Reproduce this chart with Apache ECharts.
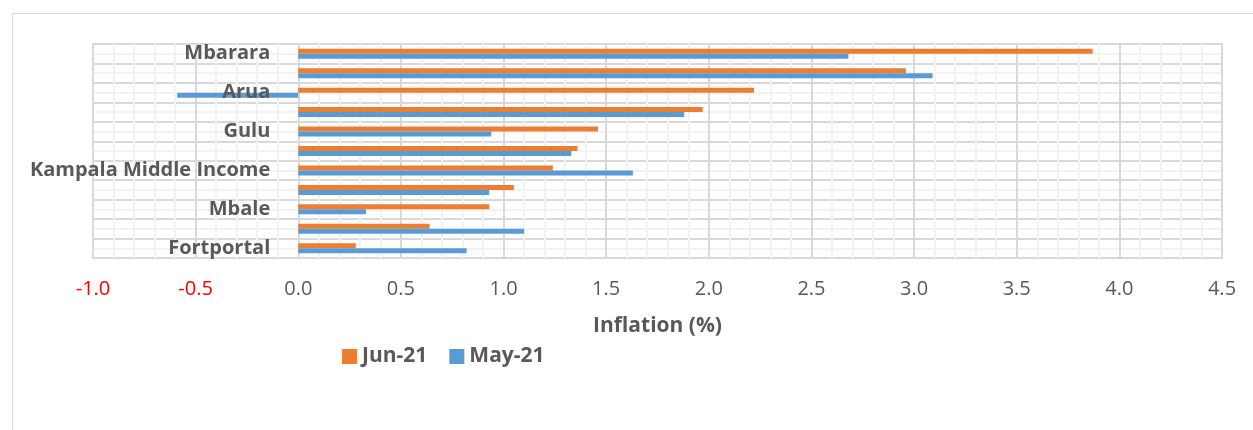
<!DOCTYPE html>
<html>
<head>
<meta charset="utf-8">
<title>Inflation by region</title>
<script src="https://cdn.jsdelivr.net/npm/echarts@6/dist/echarts.min.js"></script>
<style>
  html, body { margin: 0; padding: 0; background: #fff; }
  #chart { width: 1253px; height: 430px; }
</style>
</head>
<body>
<div id="chart"></div>
<script>
// categories, bottom to top (only every other one is labelled in the original)
const regions = [
  "Fortportal", "Masaka", "Mbale", "Jinja", "Kampala Middle Income",
  "Kampala Low Income", "Gulu", "National", "Arua", "Kampala High Income", "Mbarara"
];
// Jun-21 inflation (%)
const jun21 = [0.28, 0.64, 0.93, 1.05, 1.24, 1.36, 1.46, 1.97, 2.22, 2.96, 3.87];
// May-21 inflation (%)
const may21 = [0.82, 1.10, 0.33, 0.93, 1.63, 1.33, 0.94, 1.88, -0.59, 3.09, 2.68];

const xTicks = { min: -1.0, max: 4.5, step: 0.5 };

const textGray = "#595959";
const font = "'Open Sans', 'Noto Sans', sans-serif";

const gridLeft = 93;
const gridRight = 31;
const chartWidth = 1253;
// pixel distance from the grid's left edge to x = 0, so the category labels sit at zero
const zeroShift = (0 - xTicks.min) / (xTicks.max - xTicks.min) * (chartWidth - gridLeft - gridRight);

const chart = echarts.init(document.getElementById("chart"));

const option = {
  animation: false,
  backgroundColor: "#fff",
  textStyle: { fontFamily: font },
  graphic: [
    {
      type: "rect",
      shape: { x: 12.5, y: 13.5, width: 1260, height: 430 },
      style: { fill: "none", stroke: "#d9d9d9", lineWidth: 1 },
      silent: true,
      z: -10
    }
  ],
  grid: {
    left: gridLeft,
    right: gridRight,
    top: 44,
    bottom: 172,
    outerBoundsMode: "none",
    containLabel: false,
    show: true,
    borderColor: "#d9d9d9",
    borderWidth: 2
  },
  legend: {
    data: ["Jun-21", "May-21"],
    left: 337,
    top: 341,
    itemWidth: 15,
    itemHeight: 15,
    itemGap: 22,
    icon: "rect",
    textStyle: { color: textGray, fontSize: 21, fontWeight: "bold", fontFamily: font }
  },
  xAxis: {
    type: "value",
    min: xTicks.min,
    max: xTicks.max,
    interval: xTicks.step,
    name: "Inflation (%)",
    nameLocation: "middle",
    nameGap: 58,
    nameTextStyle: { color: textGray, fontSize: 21, fontWeight: "bold", fontFamily: font },
    axisLine: { show: false, onZero: false },
    axisTick: { show: false },
    axisLabel: {
      margin: 21,
      fontSize: 20,
      fontFamily: font,
      color: (v) => (Number(v) < 0 ? "#ff0000" : textGray),
      formatter: (v) => v.toFixed(1)
    },
    splitLine: { show: true, lineStyle: { color: "#d9d9d9", width: 2 } },
    minorTick: { show: false, splitNumber: 5 },
    minorSplitLine: { show: true, lineStyle: { color: "#f2f2f2", width: 2 } }
  },
  yAxis: [
    {
      type: "category",
      data: regions,
      position: "left",
      offset: -zeroShift,
      z: 10,
      axisLine: { show: false, onZero: false },
      axisTick: { show: false },
      splitLine: { show: false },
      axisLabel: {
        interval: 1,
        margin: 28,
        fontSize: 20,
        fontWeight: "bold",
        color: textGray,
        fontFamily: font
      }
    },
    {
      type: "value",
      min: 0,
      max: regions.length,
      interval: 1,
      position: "left",
      axisLine: { show: false },
      axisTick: { show: false },
      axisLabel: { show: false },
      splitLine: { show: true, lineStyle: { color: "#d9d9d9", width: 2 } },
      minorTick: { show: false, splitNumber: 2 },
      minorSplitLine: { show: true, lineStyle: { color: "#f2f2f2", width: 2 } }
    }
  ],
  series: [
    {
      name: "Jun-21",
      type: "bar",
      yAxisIndex: 0,
      data: jun21,
      barWidth: 5,
      barGap: "0%",
      itemStyle: { color: "#ed7d31" },
      z: 5
    },
    {
      name: "May-21",
      type: "bar",
      yAxisIndex: 0,
      data: may21,
      barWidth: 5,
      barGap: "0%",
      itemStyle: { color: "#5b9bd5" },
      z: 5
    }
  ]
};

chart.setOption(option);
</script>
</body>
</html>
